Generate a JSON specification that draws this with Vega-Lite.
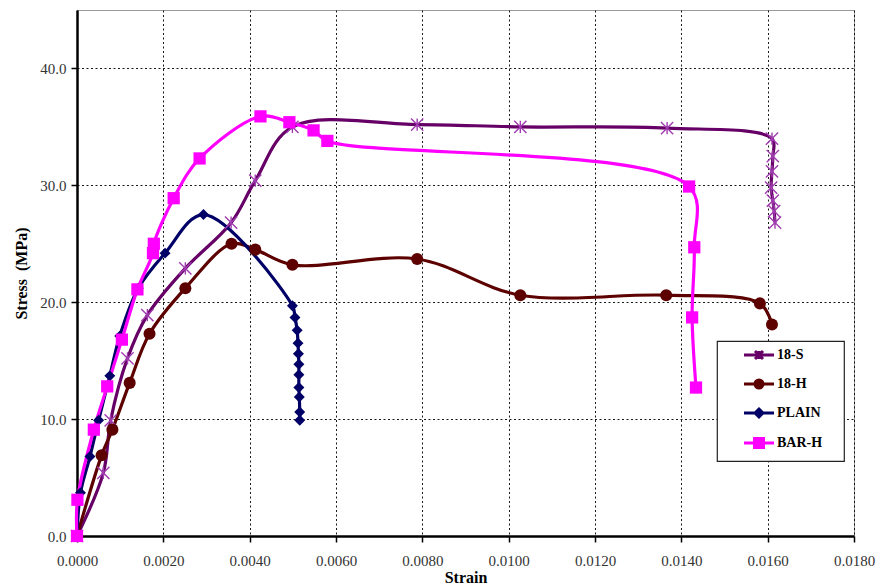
{
  "$schema": "https://vega.github.io/schema/vega-lite/v6.json",
  "width": 777,
  "height": 526,
  "autosize": "none",
  "padding": {"left": 77, "top": 10, "right": 24, "bottom": 49},
  "background": "white",
  "config": {
    "view": {"stroke": "#999999", "strokeWidth": 1},
    "font": "Liberation Serif"
  },
  "data": {
    "values": [
      {"s": "18-S", "i": 1, "x": 0, "y": 0},
      {"s": "18-S", "i": 2, "x": 0.00061, "y": 5.4},
      {"s": "18-S", "i": 3, "x": 0.00078, "y": 9.9},
      {"s": "18-S", "i": 4, "x": 0.00117, "y": 15.2},
      {"s": "18-S", "i": 5, "x": 0.00163, "y": 18.9},
      {"s": "18-S", "i": 6, "x": 0.00251, "y": 22.9},
      {"s": "18-S", "i": 7, "x": 0.00357, "y": 26.8},
      {"s": "18-S", "i": 8, "x": 0.00413, "y": 30.4},
      {"s": "18-S", "i": 9, "x": 0.00499, "y": 35.0},
      {"s": "18-S", "i": 10, "x": 0.00788, "y": 35.2},
      {"s": "18-S", "i": 11, "x": 0.01027, "y": 35.0},
      {"s": "18-S", "i": 12, "x": 0.01367, "y": 34.9},
      {"s": "18-S", "i": 13, "x": 0.0161, "y": 34.0},
      {"s": "18-S", "i": 14, "x": 0.01612, "y": 32.5},
      {"s": "18-S", "i": 15, "x": 0.0161, "y": 31.2},
      {"s": "18-S", "i": 16, "x": 0.01608, "y": 29.8},
      {"s": "18-S", "i": 17, "x": 0.01612, "y": 28.7},
      {"s": "18-S", "i": 18, "x": 0.01615, "y": 27.8},
      {"s": "18-S", "i": 19, "x": 0.01617, "y": 26.8},
      {"s": "18-H", "i": 1, "x": 0, "y": 0},
      {"s": "18-H", "i": 2, "x": 0.00057, "y": 6.9},
      {"s": "18-H", "i": 3, "x": 0.00082, "y": 9.1},
      {"s": "18-H", "i": 4, "x": 0.00122, "y": 13.1},
      {"s": "18-H", "i": 5, "x": 0.00168, "y": 17.3},
      {"s": "18-H", "i": 6, "x": 0.00251, "y": 21.2},
      {"s": "18-H", "i": 7, "x": 0.00358, "y": 25.0},
      {"s": "18-H", "i": 8, "x": 0.00413, "y": 24.5},
      {"s": "18-H", "i": 9, "x": 0.00499, "y": 23.2},
      {"s": "18-H", "i": 10, "x": 0.00788, "y": 23.7},
      {"s": "18-H", "i": 11, "x": 0.01027, "y": 20.6},
      {"s": "18-H", "i": 12, "x": 0.01365, "y": 20.6},
      {"s": "18-H", "i": 13, "x": 0.01582, "y": 19.9},
      {"s": "18-H", "i": 14, "x": 0.0161, "y": 18.1},
      {"s": "PLAIN", "i": 1, "x": 0, "y": 0},
      {"s": "PLAIN", "i": 2, "x": 0.00008, "y": 3.7},
      {"s": "PLAIN", "i": 3, "x": 0.0003, "y": 6.8},
      {"s": "PLAIN", "i": 4, "x": 0.0005, "y": 9.9},
      {"s": "PLAIN", "i": 5, "x": 0.00076, "y": 13.7},
      {"s": "PLAIN", "i": 6, "x": 0.00099, "y": 17.1},
      {"s": "PLAIN", "i": 7, "x": 0.00142, "y": 21.2},
      {"s": "PLAIN", "i": 8, "x": 0.00204, "y": 24.2},
      {"s": "PLAIN", "i": 9, "x": 0.00293, "y": 27.5},
      {"s": "PLAIN", "i": 10, "x": 0.00499, "y": 19.7},
      {"s": "PLAIN", "i": 11, "x": 0.00505, "y": 18.7},
      {"s": "PLAIN", "i": 12, "x": 0.0051, "y": 17.6},
      {"s": "PLAIN", "i": 13, "x": 0.00512, "y": 16.5},
      {"s": "PLAIN", "i": 14, "x": 0.00513, "y": 15.6},
      {"s": "PLAIN", "i": 15, "x": 0.00514, "y": 14.7},
      {"s": "PLAIN", "i": 16, "x": 0.00514, "y": 13.8},
      {"s": "PLAIN", "i": 17, "x": 0.00514, "y": 12.7},
      {"s": "PLAIN", "i": 18, "x": 0.00515, "y": 11.9},
      {"s": "PLAIN", "i": 19, "x": 0.00516, "y": 10.6},
      {"s": "PLAIN", "i": 20, "x": 0.00516, "y": 9.9},
      {"s": "BAR-H", "i": 1, "x": 0, "y": 0},
      {"s": "BAR-H", "i": 2, "x": 0.00001, "y": 3.1},
      {"s": "BAR-H", "i": 3, "x": 0.00039, "y": 9.1},
      {"s": "BAR-H", "i": 4, "x": 0.0007, "y": 12.8},
      {"s": "BAR-H", "i": 5, "x": 0.00104, "y": 16.8},
      {"s": "BAR-H", "i": 6, "x": 0.0014, "y": 21.1},
      {"s": "BAR-H", "i": 7, "x": 0.00176, "y": 24.2},
      {"s": "BAR-H", "i": 8, "x": 0.00178, "y": 25.0},
      {"s": "BAR-H", "i": 9, "x": 0.00224, "y": 28.9},
      {"s": "BAR-H", "i": 10, "x": 0.00284, "y": 32.3},
      {"s": "BAR-H", "i": 11, "x": 0.00425, "y": 35.9},
      {"s": "BAR-H", "i": 12, "x": 0.00492, "y": 35.4},
      {"s": "BAR-H", "i": 13, "x": 0.00548, "y": 34.7},
      {"s": "BAR-H", "i": 14, "x": 0.0058, "y": 33.8},
      {"s": "BAR-H", "i": 15, "x": 0.01418, "y": 29.9},
      {"s": "BAR-H", "i": 16, "x": 0.0143, "y": 24.7},
      {"s": "BAR-H", "i": 17, "x": 0.01425, "y": 18.7},
      {"s": "BAR-H", "i": 18, "x": 0.01434, "y": 12.7}
    ]
  },
  "encoding": {
    "x": {
      "field": "x", "type": "quantitative",
      "scale": {"domain": [0, 0.018], "nice": false, "zero": false},
      "axis": {
        "values": [0, 0.002, 0.004, 0.006, 0.008, 0.01, 0.012, 0.014, 0.016, 0.018],
        "format": ".4f",
        "title": "Strain",
        "titleFont": "Liberation Serif", "titleFontWeight": "bold", "titleFontSize": 16, "titleColor": "black", "titlePadding": 1,
        "labelFont": "Liberation Serif", "labelFontSize": 15, "labelColor": "#333333", "labelPadding": 11, "labelFlush": false,
        "tickSize": 6, "tickColor": "black", "tickWidth": 1.5,
        "domainColor": "black", "domainWidth": 2.5,
        "grid": true, "gridColor": "black", "gridDash": [2, 2.5], "gridWidth": 1, "gridOpacity": 0.9
      }
    },
    "y": {
      "field": "y", "type": "quantitative",
      "scale": {"domain": [0, 45], "nice": false},
      "axis": {
        "values": [0, 10, 20, 30, 40],
        "format": ".1f",
        "title": "Stress\u00a0 (MPa)",
        "titleFont": "Liberation Serif", "titleFontWeight": "bold", "titleFontSize": 16, "titleColor": "black",
        "titleAngle": -90, "titleX": -56, "titleY": 263, "titleAlign": "center", "titleBaseline": "middle",
        "labelFont": "Liberation Serif", "labelFontSize": 15, "labelColor": "#333333", "labelPadding": 5,
        "tickSize": 6, "tickColor": "black", "tickWidth": 1.5,
        "domainColor": "black", "domainWidth": 2.5,
        "grid": true, "gridColor": "black", "gridDash": [2, 2.5], "gridWidth": 1, "gridOpacity": 0.9
      }
    }
  },
  "layer": [
    {
      "mark": {"type": "line", "interpolate": "catmull-rom", "strokeWidth": 3.2},
      "encoding": {
        "color": {
          "field": "s", "type": "nominal",
          "scale": {"domain": ["18-S", "18-H", "PLAIN", "BAR-H"], "range": ["#660066", "#5c0000", "#000066", "#ff00ff"]},
          "legend": {
            "orient": "none", "legendX": 640, "legendY": 331,
            "title": ".", "titleOrient": "right", "titleOpacity": 0, "titlePadding": 12,
            "fillColor": "white", "strokeColor": "#222222",
            "padding": 7, "rowPadding": 9,
            "symbolSize": 100, "symbolStrokeWidth": 3, "symbolOffset": 28,
            "labelOffset": 11,
            "labelFont": "Liberation Serif", "labelFontWeight": "bold", "labelFontSize": 14, "labelColor": "black",
            "encode": {
              "legend": {"update": {"strokeWidth": {"value": 1.2}}},
              "symbols": {
                "update": {
                  "shape": {"signal": "datum.value === '18-S' ? 'M-3,0L3,0M-0.8,-0.8L0.8,0.8M-0.8,0.8L0.8,-0.8M0,-0.8L0,0.8' : datum.value === '18-H' ? 'M-3,0L3,0M-0.8,0A0.8,0.8 0 1,0 0.8,0A0.8,0.8 0 1,0 -0.8,0Z' : datum.value === 'PLAIN' ? 'M-3,0L3,0M0,-0.8L0.8,0L0,0.8L-0.8,0Z' : 'M-3,0L3,0M-0.9,-0.9L0.9,-0.9L0.9,0.9L-0.9,0.9Z'"},
                  "fill": {"scale": "color", "field": "value"},
                  "stroke": {"scale": "color", "field": "value"},
                  "strokeWidth": {"value": 3},
                  "size": {"value": 100},
                  "opacity": {"value": 1}
                }
              }
            }
          }
        },
        "order": {"field": "i", "type": "quantitative"}
      }
    },
    {
      "transform": [{"filter": "datum.s === '18-S'"}],
      "mark": {"type": "point", "shape": "M-1,-1L1,1M-1,1L1,-1M0,-1L0,1", "filled": false, "stroke": "#a03cb0", "strokeWidth": 1.4, "size": 150, "opacity": 1}
    },
    {
      "transform": [{"filter": "datum.s !== '18-S'"}],
      "mark": {"type": "point", "filled": true, "opacity": 1},
      "encoding": {
        "color": {"field": "s", "type": "nominal"},
        "shape": {
          "field": "s", "type": "nominal",
          "scale": {"domain": ["18-H", "PLAIN", "BAR-H"], "range": ["circle", "diamond", "square"]},
          "legend": null
        },
        "size": {
          "field": "s", "type": "nominal",
          "scale": {"type": "ordinal", "domain": ["18-H", "PLAIN", "BAR-H"], "range": [145, 120, 150]},
          "legend": null
        }
      }
    }
  ]
}
